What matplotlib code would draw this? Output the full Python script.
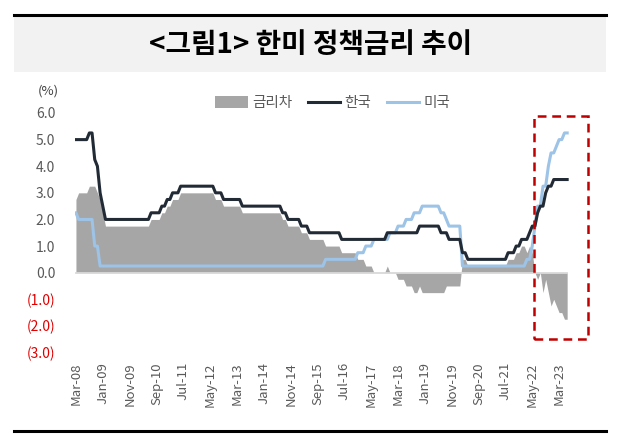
import matplotlib
matplotlib.use('Agg')
import matplotlib.pyplot as plt
from matplotlib.patches import Rectangle, Patch
from matplotlib.lines import Line2D
import numpy as np
import pandas as pd

plt.rcParams['font.family'] = ['Noto Sans CJK KR', 'DejaVu Sans']

# monthly policy rates, Mar-08 .. Jun-23 (%)
korea = [
    5.00, 5.00, 5.00, 5.00, 5.00, 5.25, 5.25, 4.25, 4.00, 3.00,                 # 2008 (Mar-Dec)
    2.50, 2.00, 2.00, 2.00, 2.00, 2.00, 2.00, 2.00, 2.00, 2.00, 2.00, 2.00,     # 2009
    2.00, 2.00, 2.00, 2.00, 2.00, 2.00, 2.25, 2.25, 2.25, 2.25, 2.50, 2.50,     # 2010
    2.75, 2.75, 3.00, 3.00, 3.00, 3.25, 3.25, 3.25, 3.25, 3.25, 3.25, 3.25,     # 2011
    3.25, 3.25, 3.25, 3.25, 3.25, 3.25, 3.00, 3.00, 3.00, 2.75, 2.75, 2.75,     # 2012
    2.75, 2.75, 2.75, 2.75, 2.50, 2.50, 2.50, 2.50, 2.50, 2.50, 2.50, 2.50,     # 2013
    2.50, 2.50, 2.50, 2.50, 2.50, 2.50, 2.50, 2.25, 2.25, 2.00, 2.00, 2.00,     # 2014
    2.00, 2.00, 1.75, 1.75, 1.75, 1.50, 1.50, 1.50, 1.50, 1.50, 1.50, 1.50,     # 2015
    1.50, 1.50, 1.50, 1.50, 1.50, 1.25, 1.25, 1.25, 1.25, 1.25, 1.25, 1.25,     # 2016
    1.25, 1.25, 1.25, 1.25, 1.25, 1.25, 1.25, 1.25, 1.25, 1.25, 1.50, 1.50,     # 2017
    1.50, 1.50, 1.50, 1.50, 1.50, 1.50, 1.50, 1.50, 1.50, 1.50, 1.75, 1.75,     # 2018
    1.75, 1.75, 1.75, 1.75, 1.75, 1.75, 1.50, 1.50, 1.50, 1.25, 1.25, 1.25,     # 2019
    1.25, 1.25, 0.75, 0.75, 0.50, 0.50, 0.50, 0.50, 0.50, 0.50, 0.50, 0.50,     # 2020
    0.50, 0.50, 0.50, 0.50, 0.50, 0.50, 0.50, 0.75, 0.75, 0.75, 1.00, 1.00,     # 2021
    1.25, 1.25, 1.25, 1.50, 1.75, 1.75, 2.25, 2.50, 2.50, 3.00, 3.25, 3.25,     # 2022
    3.50, 3.50, 3.50, 3.50, 3.50, 3.50,                                         # 2023 (Jan-Jun)
]

usa = [
    2.25, 2.00, 2.00, 2.00, 2.00, 2.00, 2.00, 1.00, 1.00, 0.25,                 # 2008
    0.25, 0.25, 0.25, 0.25, 0.25, 0.25, 0.25, 0.25, 0.25, 0.25, 0.25, 0.25,     # 2009
    0.25, 0.25, 0.25, 0.25, 0.25, 0.25, 0.25, 0.25, 0.25, 0.25, 0.25, 0.25,     # 2010
    0.25, 0.25, 0.25, 0.25, 0.25, 0.25, 0.25, 0.25, 0.25, 0.25, 0.25, 0.25,     # 2011
    0.25, 0.25, 0.25, 0.25, 0.25, 0.25, 0.25, 0.25, 0.25, 0.25, 0.25, 0.25,     # 2012
    0.25, 0.25, 0.25, 0.25, 0.25, 0.25, 0.25, 0.25, 0.25, 0.25, 0.25, 0.25,     # 2013
    0.25, 0.25, 0.25, 0.25, 0.25, 0.25, 0.25, 0.25, 0.25, 0.25, 0.25, 0.25,     # 2014
    0.25, 0.25, 0.25, 0.25, 0.25, 0.25, 0.25, 0.25, 0.25, 0.25, 0.25, 0.50,     # 2015
    0.50, 0.50, 0.50, 0.50, 0.50, 0.50, 0.50, 0.50, 0.50, 0.50, 0.50, 0.75,     # 2016
    0.75, 0.75, 1.00, 1.00, 1.00, 1.25, 1.25, 1.25, 1.25, 1.25, 1.25, 1.50,     # 2017
    1.50, 1.50, 1.75, 1.75, 1.75, 2.00, 2.00, 2.00, 2.25, 2.25, 2.25, 2.50,     # 2018
    2.50, 2.50, 2.50, 2.50, 2.50, 2.50, 2.25, 2.25, 2.00, 1.75, 1.75, 1.75,     # 2019
    1.75, 1.75, 0.25, 0.25, 0.25, 0.25, 0.25, 0.25, 0.25, 0.25, 0.25, 0.25,     # 2020
    0.25, 0.25, 0.25, 0.25, 0.25, 0.25, 0.25, 0.25, 0.25, 0.25, 0.25, 0.25,     # 2021
    0.25, 0.25, 0.50, 0.50, 1.00, 1.75, 2.50, 2.50, 3.25, 3.25, 4.00, 4.50,     # 2022
    4.50, 4.75, 5.00, 5.00, 5.25, 5.25,                                         # 2023
]

# 금리차 (Korea - US)
spread = [
    2.75, 3.00, 3.00, 3.00, 3.00, 3.25, 3.25, 3.25, 3.00, 2.75,                 # 2008
    2.25, 1.75, 1.75, 1.75, 1.75, 1.75, 1.75, 1.75, 1.75, 1.75, 1.75, 1.75,     # 2009
    1.75, 1.75, 1.75, 1.75, 1.75, 1.75, 2.00, 2.00, 2.00, 2.00, 2.25, 2.25,     # 2010
    2.50, 2.50, 2.75, 2.75, 2.75, 3.00, 3.00, 3.00, 3.00, 3.00, 3.00, 3.00,     # 2011
    3.00, 3.00, 3.00, 3.00, 3.00, 3.00, 2.75, 2.75, 2.75, 2.50, 2.50, 2.50,     # 2012
    2.50, 2.50, 2.50, 2.50, 2.25, 2.25, 2.25, 2.25, 2.25, 2.25, 2.25, 2.25,     # 2013
    2.25, 2.25, 2.25, 2.25, 2.25, 2.25, 2.25, 2.00, 2.00, 1.75, 1.75, 1.75,     # 2014
    1.75, 1.75, 1.50, 1.50, 1.50, 1.25, 1.25, 1.25, 1.25, 1.25, 1.25, 1.00,     # 2015
    1.00, 1.00, 1.00, 1.00, 1.00, 0.75, 0.75, 0.75, 0.75, 0.75, 0.75, 0.50,     # 2016
    0.50, 0.50, 0.25, 0.25, 0.25, 0.00, 0.00, 0.00, 0.00, 0.00, 0.25, 0.00,     # 2017
    0.00, 0.00, -0.25, -0.25, -0.25, -0.50, -0.50, -0.50, -0.75, -0.75, -0.50, -0.75,  # 2018
    -0.75, -0.75, -0.75, -0.75, -0.75, -0.75, -0.75, -0.75, -0.50, -0.50, -0.50, -0.50,  # 2019
    -0.50, -0.50, 0.50, 0.50, 0.25, 0.25, 0.25, 0.25, 0.25, 0.25, 0.25, 0.25,   # 2020
    0.25, 0.25, 0.25, 0.25, 0.25, 0.25, 0.25, 0.50, 0.50, 0.50, 0.75, 0.75,     # 2021
    1.00, 1.00, 0.75, 1.00, 0.75, 0.00, -0.25, 0.00, -0.75, -0.25, -0.75, -1.25,  # 2022
    -1.00, -1.25, -1.50, -1.50, -1.75, -1.75,                                   # 2023
]

months = pd.date_range('2008-03-01', periods=len(korea), freq='MS')
month_labels = [d.strftime('%b-%y') for d in months]
y_ticks = [-3, -2, -1, 0, 1, 2, 3, 4, 5, 6]

x = np.arange(len(korea))
W, H = 628, 434

fig = plt.figure(figsize=(W / 100, H / 100), dpi=100)

# header band and rules
fig.add_artist(Rectangle((14 / W, 1 - 72 / H), (606 - 14) / W, (72 - 17) / H,
                         transform=fig.transFigure, facecolor='#f2f2f2', edgecolor='none'))
fig.add_artist(Line2D([14 / W, 606 / W], [1 - 15 / H] * 2, transform=fig.transFigure,
                      color='black', lw=2.2))
fig.add_artist(Line2D([14 / W, 606 / W], [1 - 430.5 / H] * 2, transform=fig.transFigure,
                      color='black', lw=2.2))
fig.text(311 / W, 1 - 45 / H, '<그림1> 한미 정책금리 추이', ha='center', va='center',
         fontsize=20, fontweight='bold', color='black')
fig.text(48 / W, 1 - 91 / H, '(%)', ha='center', va='center', fontsize=9.5, color='#404040')

ax = fig.add_axes([74.6 / W, 1 - 352.5 / H, (568.5 - 74.6) / W, (352.5 - 113) / H])

ax.fill_between(x, 0, spread, color='#a6a6a6', lw=0, zorder=1)
ax.plot([x[0], x[-1]], [0, 0], color='#d9d9d9', lw=1.3, zorder=2)
ax.plot(x, korea, color='#222b35', lw=2.2, zorder=4, solid_joinstyle='round')
ax.plot(x, usa, color='#9dc3e6', lw=2.2, zorder=3, solid_joinstyle='round')

ax.set_xlim(-0.5, len(korea) - 0.5)
ax.set_ylim(-3, 6)
for s in ax.spines.values():
    s.set_visible(False)

ax.set_yticks(y_ticks)
ax.set_yticklabels([f'({abs(v):.1f})' if v < 0 else f'{v:.1f}' for v in y_ticks])
for v, lab in zip(y_ticks, ax.get_yticklabels()):
    lab.set_color('#e00000' if v < 0 else '#595959')
ax.tick_params(axis='y', length=0, pad=14, labelsize=10)

ax.set_xticks(x[::10])
ax.set_xticklabels(month_labels[::10], rotation=90)
ax.tick_params(axis='x', length=0, pad=7, labelsize=9.5, labelcolor='#595959')

# highlight box
ax.add_patch(Rectangle((170.7, -2.49), 20.1, 8.38, fill=False, edgecolor='#c00000',
                       lw=1.8, linestyle=(0, (3.5, 2.3)), clip_on=False, zorder=5))

handles = [Patch(facecolor='#a6a6a6', edgecolor='none'),
           Line2D([], [], color='#222b35', lw=2.2),
           Line2D([], [], color='#9dc3e6', lw=2.2)]
fig.legend(handles, ['금리차', '한국', '미국'], loc='center',
           bbox_to_anchor=(333 / W, 1 - 103 / H), ncol=3, frameon=False,
           fontsize=10.5, labelcolor='#595959', handlelength=2.2, handleheight=0.9,
           handletextpad=0.3, columnspacing=1.1)

fig.savefig('out.png', dpi=100)
